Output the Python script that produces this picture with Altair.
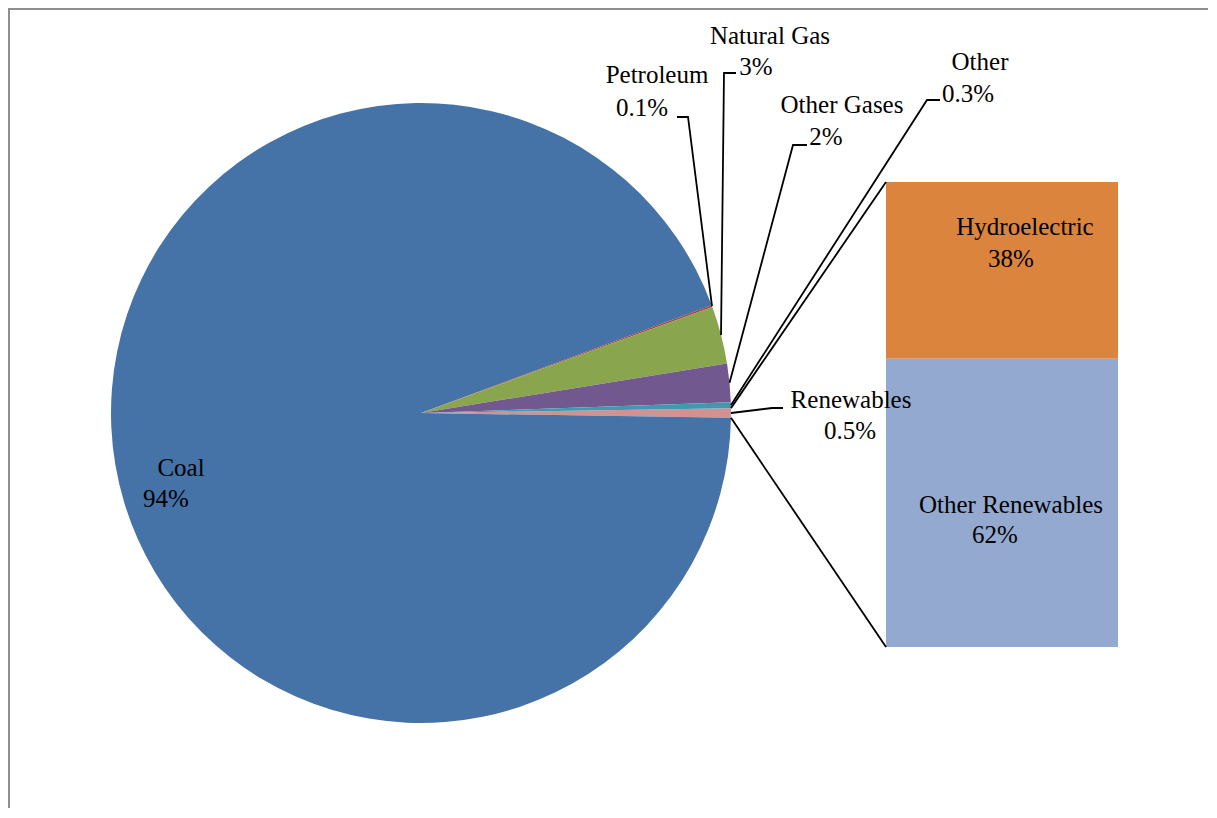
import math
import altair as alt
import pandas as pd

# ---------------- data ----------------
sources = ["Renewables", "Coal", "Petroleum", "Natural Gas", "Other Gases", "Other"]
shares = [0.5, 94.1, 0.1, 3.0, 2.0, 0.3]
colors = ["#D19392", "#4572A7", "#AA4643", "#89A54E", "#71588F", "#4198AF"]

sub_sources = ["Hydroelectric", "Other Renewables"]
sub_shares = [38, 62]
sub_colors = ["#DB843D", "#93A9CF"]

# ---------------- layout (pixels inside the chart) ----------------
OFF = 8
CX, CY, R = 421 - OFF, 413 - OFF, 310
BAR_X0, BAR_X1 = 886 - OFF, 1118 - OFF
BAR_Y0, BAR_Y1 = 182 - OFF, 647 - OFF
W, H = 1200, 800
FONT = "Times New Roman, Liberation Serif, serif"
FS = 25

total = sum(shares)
a0 = math.pi / 2 - (shares[0] / total) * math.pi  # renewables centred on 3 o'clock


def fmt(v):
    return f"{v:.0f}%" if v >= 1 else f"{v:.1f}%"


def rim(theta):
    return CX + R * math.sin(theta), CY - R * math.cos(theta)


# label anchors (page coords): name (x, baseline), pct (x, baseline), leader elbow
label_layout = {
    "Coal": ((181, 476), (166, 507), None),
    "Petroleum": ((657, 83), (642, 116), [(677, 117), (688, 117)]),
    "Natural Gas": ((770, 44), (756, 75), [(736, 73), (724, 73)]),
    "Other Gases": ((842, 113), (826, 145), [(807, 145), (793, 145)]),
    "Other": ((980, 70), (968, 102), [(940, 100), (927, 100)]),
    "Renewables": ((851, 408), (850, 439), [(783, 408), (772, 408)]),
}
sub_layout = {
    "Hydroelectric": ((1025, 235), (1011, 267)),
    "Other Renewables": ((1011, 513), (995, 543)),
}

# ---------------- tables ----------------
pie_df = pd.DataFrame({"source": sources, "share": shares, "ord": list(range(len(sources)))})
bar_df = pd.DataFrame({"source": sub_sources, "share": sub_shares, "ord": list(range(len(sub_sources)))})

text_rows = []
line_rows = []
cum = 0.0
for s, v in zip(sources, shares):
    mid = a0 + 2 * math.pi * (cum + v / 2) / total
    cum += v
    (nx, ny), (px, py), elbow = label_layout[s]
    text_rows.append({"x": nx - OFF, "y": ny - OFF, "t": s})
    text_rows.append({"x": px - OFF, "y": py - OFF, "t": fmt(v)})
    if elbow:
        pts = [(ex - OFF, ey - OFF) for ex, ey in elbow] + [rim(mid)]
        for k, (x, y) in enumerate(pts):
            line_rows.append({"g": s, "k": k, "x": x, "y": y})

for s, v in zip(sub_sources, sub_shares):
    (nx, ny), (px, py) = sub_layout[s]
    text_rows.append({"x": nx - OFF, "y": ny - OFF, "t": s})
    text_rows.append({"x": px - OFF, "y": py - OFF, "t": fmt(v)})

# connectors from renewables slice edges to bar corners
ta = a0
tb = a0 + 2 * math.pi * shares[0] / total
for g, th, corner in (("c1", ta, (BAR_X0, BAR_Y0)), ("c2", tb, (BAR_X0, BAR_Y1))):
    x, y = rim(th)
    line_rows.append({"g": g, "k": 0, "x": x, "y": y})
    line_rows.append({"g": g, "k": 1, "x": corner[0], "y": corner[1]})

text_df = pd.DataFrame(text_rows)
line_df = pd.DataFrame(line_rows)

xs = alt.Scale(domain=[0, W], range=[0, W])
ys = alt.Scale(domain=[0, H], range=[0, H])
color = alt.Color(
    "source:N",
    scale=alt.Scale(domain=sources + sub_sources, range=colors + sub_colors),
    legend=None,
)

pie = alt.Chart(pie_df).mark_arc(radius=R, strokeWidth=0).encode(
    theta=alt.Theta(
        "share:Q",
        stack=True,
        scale=alt.Scale(domain=[0, total], range=[a0, a0 + 2 * math.pi]),
    ),
    order=alt.Order("ord:Q"),
    color=color,
    x=alt.value(CX),
    y=alt.value(CY),
)

bar = (
    alt.Chart(bar_df)
    .transform_window(top="sum(share)", sort=[alt.SortField("ord")])
    .transform_calculate(bottom="datum.top - datum.share")
    .mark_rect(strokeWidth=0)
    .encode(
        x=alt.value(BAR_X0),
        x2=alt.value(BAR_X1),
        y=alt.Y("bottom:Q", scale=alt.Scale(domain=[0, 100], range=[BAR_Y0, BAR_Y1]), axis=None),
        y2="top:Q",
        color=color,
    )
)

lines = alt.Chart(line_df).mark_line(color="black", strokeWidth=1.8).encode(
    x=alt.X("x:Q", scale=xs, axis=None),
    y=alt.Y("y:Q", scale=ys, axis=None),
    detail="g:N",
    order="k:Q",
)

texts = alt.Chart(text_df).mark_text(
    font=FONT, fontSize=FS, align="center", baseline="alphabetic", color="black"
).encode(
    x=alt.X("x:Q", scale=xs, axis=None),
    y=alt.Y("y:Q", scale=ys, axis=None),
    text="t:N",
)

frame_left = alt.Chart(pie_df).mark_rule(color="#8f8f8f", strokeWidth=2).encode(
    x=alt.value(1), y=alt.value(0), y2=alt.value(H)
)
frame_top = alt.Chart(pie_df).mark_rule(color="#8f8f8f", strokeWidth=2).encode(
    x=alt.value(0), x2=alt.value(W), y=alt.value(1)
)

chart = (
    alt.layer(pie, bar, lines, texts, frame_left, frame_top)
    .resolve_scale(y="independent")
    .properties(width=W, height=H, padding=0, autosize="none")
    .configure_view(stroke=None)
)

chart.save("out.html", embed_options={"renderer": "svg", "actions": False})
